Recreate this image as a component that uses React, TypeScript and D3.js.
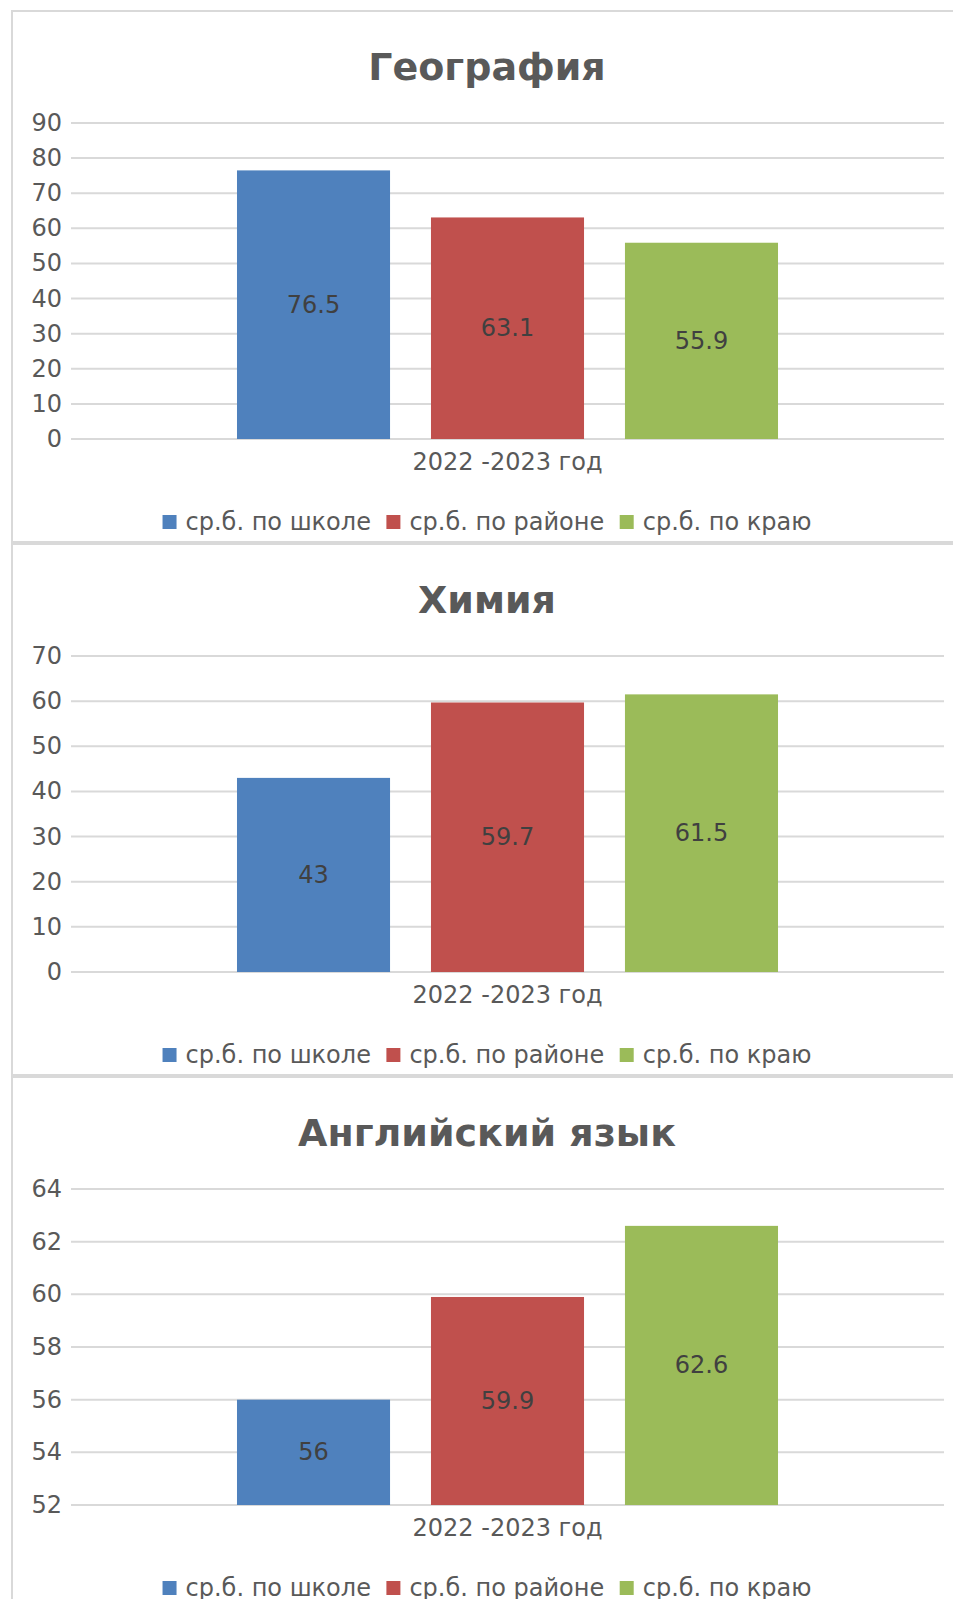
import React, { useMemo } from "react";
import * as d3 from "d3";

const categories = ["2022 -2023 год"];
const seriesNames = ["ср.б. по школе", "ср.б. по районе", "ср.б. по краю"];
const seriesColors = ["#4F81BD", "#C0504D", "#9BBB59"];

const titles = ["География", "Химия", "Английский язык"];
const geographyValues = [76.5, 63.1, 55.9];
const chemistryValues = [43, 59.7, 61.5];
const englishValues = [56, 59.9, 62.6];

const geographyTicks = [0, 10, 20, 30, 40, 50, 60, 70, 80, 90];
const chemistryTicks = [0, 10, 20, 30, 40, 50, 60, 70];
const englishTicks = [52, 54, 56, 58, 60, 62, 64];

const charts = [
  { title: titles[0], values: geographyValues, ticks: geographyTicks },
  { title: titles[1], values: chemistryValues, ticks: chemistryTicks },
  { title: titles[2], values: englishValues, ticks: englishTicks },
];

const FONT = "'DejaVu Sans', sans-serif";
const W = 953;
const H = 1599;
const BOX_X = 12;
const BOX_W = 950;
const BOX_H = 531;
const PITCH = 533;
const TOP0 = 11;
const PLOT_L = 71;
const PLOT_R = 944;
const PLOT_T = 112;
const PLOT_B = 428;

function measure(text: string, font: string): number {
  const c = document.createElement("canvas").getContext("2d");
  if (!c) return text.length * 12;
  c.font = font;
  return c.measureText(text).width;
}

function Chart({ top, title, values, ticks }: { top: number; title: string; values: number[]; ticks: number[] }) {
  const y = d3
    .scaleLinear()
    .domain([d3.min(ticks)!, d3.max(ticks)!])
    .range([top + PLOT_B, top + PLOT_T]);
  const xOuter = d3.scaleBand<string>().domain(categories).range([PLOT_L, PLOT_R]).paddingInner(0).paddingOuter(0.3068);
  const xInner = d3
    .scaleBand<string>()
    .domain(seriesNames)
    .range([0, xOuter.bandwidth()])
    .paddingInner(0.211)
    .paddingOuter(0);
  const cx = (BOX_X * 2 + BOX_W) / 2;

  const legend = useMemo(() => {
    const font = `24px ${FONT}`;
    const sq = 14;
    const gapAfterSq = 9;
    const gapItems = 15.5;
    const widths = seriesNames.map((s) => measure(s, font));
    const total = widths.reduce((a, w) => a + sq + gapAfterSq + w, 0) + gapItems * (seriesNames.length - 1);
    let x = cx - total / 2;
    return seriesNames.map((s, i) => {
      const item = { name: s, x, color: seriesColors[i] };
      x += sq + gapAfterSq + widths[i] + gapItems;
      return item;
    });
  }, [cx]);

  const base = d3.min(ticks)!;

  return (
    <g>
      <rect x={BOX_X} y={top} width={BOX_W} height={BOX_H} fill="#fff" stroke="#D9D9D9" strokeWidth={2} />
      <text
        x={cx}
        y={top + 56}
        textAnchor="middle"
        dominantBaseline="central"
        fontFamily={FONT}
        fontWeight="bold"
        fontSize={38}
        fill="#595959"
      >
        {title}
      </text>
      {ticks.map((t) => (
        <g key={t}>
          <line x1={PLOT_L} x2={PLOT_R} y1={y(t)} y2={y(t)} stroke="#D9D9D9" strokeWidth={2} />
          <text
            x={62}
            y={y(t)}
            textAnchor="end"
            dominantBaseline="central"
            fontFamily={FONT}
            fontSize={24}
            fill="#595959"
          >
            {t}
          </text>
        </g>
      ))}
      {categories.map((c) =>
        seriesNames.map((s, i) => {
          const x0 = xOuter(c)! + xInner(s)!;
          const v = values[i];
          return (
            <g key={c + s}>
              <rect x={x0} y={y(v)} width={xInner.bandwidth()} height={y(base) - y(v)} fill={seriesColors[i]} />
              <text
                x={x0 + xInner.bandwidth() / 2}
                y={(y(v) + y(base)) / 2}
                textAnchor="middle"
                dominantBaseline="central"
                fontFamily={FONT}
                fontSize={24}
                fill="#404040"
              >
                {v}
              </text>
            </g>
          );
        })
      )}
      {categories.map((c) => (
        <text
          key={c}
          x={xOuter(c)! + xOuter.bandwidth() / 2}
          y={top + 451}
          textAnchor="middle"
          dominantBaseline="central"
          fontFamily={FONT}
          fontSize={24}
          fill="#595959"
        >
          {c}
        </text>
      ))}
      {legend.map((l) => (
        <g key={l.name}>
          <rect x={l.x} y={top + 511 - 7} width={14} height={14} fill={l.color} />
          <text
            x={l.x + 23}
            y={top + 511}
            dominantBaseline="central"
            fontFamily={FONT}
            fontSize={24}
            fill="#595959"
          >
            {l.name}
          </text>
        </g>
      ))}
    </g>
  );
}

export default function App() {
  return (
    <svg
      width={W}
      height={H}
      style={{ position: "absolute", left: 0, top: 0, display: "block", background: "#fff" }}
    >
      <rect x={0} y={0} width={W} height={H} fill="#fff" />
      {charts.map((c, i) => (
        <Chart key={c.title} top={TOP0 + i * PITCH} title={c.title} values={c.values} ticks={c.ticks} />
      ))}
    </svg>
  );
}
